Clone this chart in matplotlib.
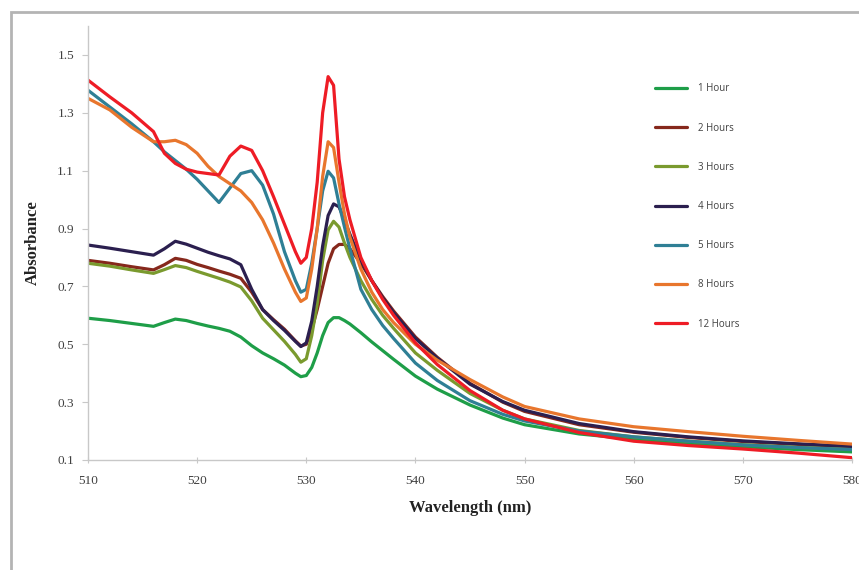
import matplotlib
matplotlib.use("Agg")
import matplotlib.pyplot as plt
from matplotlib.patches import Rectangle

# ========= Data =========
wavelength = [510, 512, 514, 516, 517, 518, 519, 520, 521, 522, 523, 524, 525, 526, 527, 528,
              529, 529.5, 530, 530.5, 531, 531.5, 532, 532.5, 533, 533.5, 534, 535, 536, 537,
              538, 540, 542, 545, 548, 550, 555, 560, 565, 570, 575, 580]

hour_1 = [0.590, 0.582, 0.572, 0.562, 0.575, 0.587, 0.582, 0.572, 0.563, 0.555, 0.545, 0.525,
          0.495, 0.470, 0.450, 0.428, 0.400, 0.388, 0.392, 0.420, 0.470, 0.530, 0.575, 0.592,
          0.592, 0.582, 0.570, 0.540, 0.508, 0.478, 0.448, 0.390, 0.345, 0.290, 0.245, 0.222,
          0.190, 0.172, 0.158, 0.146, 0.136, 0.128]
hours_2 = [0.790, 0.780, 0.768, 0.757, 0.775, 0.797, 0.790, 0.776, 0.765, 0.753, 0.742, 0.728,
           0.680, 0.620, 0.585, 0.552, 0.512, 0.494, 0.500, 0.550, 0.620, 0.700, 0.780, 0.830,
           0.845, 0.845, 0.830, 0.780, 0.720, 0.665, 0.615, 0.525, 0.455, 0.365, 0.300, 0.268,
           0.222, 0.196, 0.178, 0.164, 0.154, 0.146]
hours_3 = [0.780, 0.770, 0.757, 0.745, 0.758, 0.772, 0.765, 0.752, 0.740, 0.728, 0.715, 0.698,
           0.650, 0.590, 0.550, 0.510, 0.465, 0.438, 0.450, 0.530, 0.640, 0.790, 0.895, 0.925,
           0.905, 0.850, 0.800, 0.720, 0.655, 0.600, 0.555, 0.470, 0.410, 0.330, 0.272, 0.242,
           0.202, 0.180, 0.165, 0.153, 0.144, 0.137]
hours_4 = [0.843, 0.832, 0.820, 0.808, 0.830, 0.856, 0.846, 0.832, 0.818, 0.806, 0.795, 0.775,
           0.690, 0.620, 0.582, 0.548, 0.510, 0.492, 0.505, 0.580, 0.700, 0.840, 0.945, 0.985,
           0.975, 0.930, 0.880, 0.790, 0.720, 0.660, 0.610, 0.520, 0.452, 0.362, 0.302, 0.272,
           0.226, 0.198, 0.180, 0.166, 0.156, 0.147]
hours_5 = [1.378, 1.320, 1.262, 1.200, 1.165, 1.135, 1.105, 1.070, 1.030, 0.990, 1.040, 1.090,
           1.100, 1.050, 0.950, 0.820, 0.720, 0.680, 0.690, 0.780, 0.900, 1.030, 1.098, 1.075,
           0.985, 0.905, 0.830, 0.690, 0.620, 0.565, 0.520, 0.435, 0.375, 0.305, 0.258, 0.235,
           0.200, 0.180, 0.165, 0.152, 0.143, 0.136]
hours_8 = [1.350, 1.310, 1.250, 1.200, 1.200, 1.205, 1.190, 1.160, 1.115, 1.080, 1.055, 1.030,
           0.990, 0.930, 0.850, 0.760, 0.680, 0.648, 0.660, 0.760, 0.900, 1.080, 1.200, 1.180,
           1.060, 0.950, 0.870, 0.760, 0.680, 0.620, 0.575, 0.500, 0.445, 0.378, 0.318, 0.285,
           0.242, 0.215, 0.198, 0.182, 0.168, 0.155]
hours_12 = [1.413, 1.355, 1.300, 1.235, 1.160, 1.125, 1.105, 1.095, 1.090, 1.085, 1.150, 1.185,
            1.170, 1.100, 1.010, 0.915, 0.820, 0.780, 0.800, 0.900, 1.060, 1.300, 1.425, 1.395,
            1.140, 1.010, 0.930, 0.800, 0.720, 0.655, 0.600, 0.505, 0.430, 0.340, 0.272, 0.242,
            0.195, 0.165, 0.150, 0.138, 0.124, 0.108]

labels = ["1 Hour", "2 Hours", "3 Hours", "4 Hours", "5 Hours", "8 Hours", "12 Hours"]
series = [hour_1, hours_2, hours_3, hours_4, hours_5, hours_8, hours_12]
colors = ["#1e9e48", "#86281c", "#7a9a2e", "#2b1f4f", "#2f7f95", "#e8762d", "#ee1c25"]

x_ticks = [510, 520, 530, 540, 550, 560, 570, 580]
y_ticks = [0.1, 0.3, 0.5, 0.7, 0.9, 1.1, 1.3, 1.5]

# ========= plot graph =========
fig = plt.figure(figsize=(8.59, 5.70), dpi=100)
fig.patch.set_facecolor("white")
ax = fig.add_axes([88 / 859, 1 - 460 / 570, (852 - 88) / 859, (460 - 26) / 570])

for values, label, color in zip(series, labels, colors):
    ax.plot(wavelength, values, color=color, linewidth=2.3, label=label,
            solid_joinstyle="round", solid_capstyle="round")

ax.set_xlim(510, 580)
ax.set_ylim(0.1, 1.6)
ax.set_xticks(x_ticks)
ax.set_yticks(y_ticks)
ax.set_xticklabels([str(t) for t in x_ticks])
ax.set_yticklabels(["%.1f" % t for t in y_ticks])

for side in ["top", "right"]:
    ax.spines[side].set_visible(False)
for side in ["left", "bottom"]:
    ax.spines[side].set_color("#c8c8c8")
    ax.spines[side].set_linewidth(1.0)

ax.tick_params(axis="x", direction="inout", length=5, color="#c8c8c8",
               labelsize=9.5, labelcolor="#404040", pad=8)
ax.tick_params(axis="y", direction="out", length=4, color="#c8c8c8",
               labelsize=9.5, labelcolor="#404040", pad=6)
for lbl in ax.get_xticklabels() + ax.get_yticklabels():
    lbl.set_fontfamily("Liberation Serif")

ax.set_xlabel("Wavelength (nm)", fontfamily="Liberation Serif", fontweight="bold",
              fontsize=12, color="#222222", labelpad=10)
ax.set_ylabel("Absorbance", fontfamily="Liberation Serif", fontweight="bold",
              fontsize=12, color="#222222", labelpad=12)

leg = ax.legend(loc="center left", bbox_to_anchor=(655 / 859, 1 - 206.5 / 570),
                bbox_transform=fig.transFigure, frameon=False,
                handlelength=3.3, handletextpad=1.1, labelspacing=2.9,
                borderpad=0, borderaxespad=0, prop={"family": "Open Sans", "size": 7})
for text in leg.get_texts():
    text.set_color("#404040")

# chart area border (cropped at right and bottom)
fig.patches.append(Rectangle((11 / 859, -0.1), 1.2, 1 - 12 / 570 + 0.1,
                             transform=fig.transFigure, fill=False,
                             edgecolor="#b4b4b4", linewidth=2.0))

fig.savefig("out.png", dpi=100)
